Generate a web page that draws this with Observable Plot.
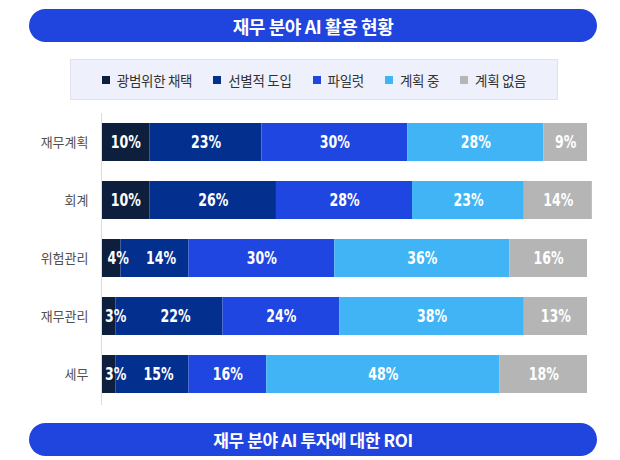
<!DOCTYPE html>
<html><head><meta charset="utf-8">
<script src="https://cdn.jsdelivr.net/npm/d3@7"></script>
<script src="https://cdn.jsdelivr.net/npm/@observablehq/plot@0.6"></script>
<style>
body{margin:0;width:620px;height:460px;position:relative;background:#fff;font-family:"Noto Sans CJK KR","Noto Sans",sans-serif;overflow:hidden}
.pill{position:absolute;left:29px;width:568px;height:33px;border-radius:17px;background:#2045de;color:#fff;font-weight:700;display:flex;align-items:center;justify-content:center;letter-spacing:-0.4px}
#legend{position:absolute;left:70px;top:59px;width:486px;height:39px;background:#eef0fb;border:1px solid #dfe2f2;display:flex;align-items:center;justify-content:center;gap:21px;font-size:13.5px;color:#333;letter-spacing:-0.3px}
#legend .it{display:flex;align-items:center;gap:7px}
#legend .sw{width:8px;height:8px;display:inline-block}
#chart{position:absolute;left:0;top:100px}
</style></head>
<body>
<div class="pill" id="title" style="top:9px;font-size:18px"></div>
<div id="legend"></div>
<div id="chart"></div>
<div class="pill" id="bottom" style="top:423px;font-size:17px"></div>
<script>
const titleText = "재무 분야 AI 활용 현황";
const bottomText = "재무 분야 AI 투자에 대한 ROI";
const categories = ["재무계획", "회계", "위험관리", "재무관리", "세무"];
const seriesNames = ["광범위한 채택", "선별적 도입", "파일럿", "계획 중", "계획 없음"];
const seriesColors = ["#0e1f3d", "#03308f", "#1f46e0", "#40b4f5", "#b5b5b5"];
const broadAdoption = [10, 10, 4, 3, 3];
const selectiveAdoption = [23, 26, 14, 22, 15];
const pilot = [30, 28, 30, 24, 16];
const planning = [28, 23, 36, 38, 48];
const noPlan = [9, 14, 16, 13, 18];
const seriesValues = [broadAdoption, selectiveAdoption, pilot, planning, noPlan];

document.getElementById("title").textContent = titleText;
document.getElementById("bottom").textContent = bottomText;
const leg = document.getElementById("legend");
seriesNames.forEach((s, i) => {
  const it = document.createElement("div"); it.className = "it";
  const sw = document.createElement("span"); sw.className = "sw"; sw.style.background = seriesColors[i];
  const t = document.createElement("span"); t.textContent = s;
  it.appendChild(sw); it.appendChild(t); leg.appendChild(it);
});

const data = [];
categories.forEach((c, ci) => seriesNames.forEach((s, si) => data.push({cat: c, series: s, si, ci, value: seriesValues[si][ci]})));

// labels of very thin first segments (and the one after) are nudged right, as in the original
const tiny = d => d.si === 0 && d.value < 5;
const afterTiny = d => d.si === 1 && broadAdoption[d.ci] < 5;
const labelOpts = {x: "value", y: "cat", z: "series", text: d => d.value + "%", fill: "white",
  fontSize: 17, fontWeight: 700, fontFamily: "'DejaVu Sans', sans-serif", className: "lbl"};

const chart = Plot.plot({
  width: 620, height: 310,
  marginLeft: 101, marginRight: 20, marginTop: 13, marginBottom: 5,
  x: {domain: [0, 100], range: [101, 587], axis: null},
  y: {domain: categories, range: [1, 316], padding: 0.34, label: null},
  color: {domain: seriesNames, range: seriesColors},
  style: {fontFamily: "'Noto Sans CJK KR', sans-serif", background: "transparent"},
  marks: [
    Plot.barX(data, Plot.stackX({x: "value", y: "cat", fill: "series"})),
    Plot.ruleX([0], {stroke: "#dcdcdc", strokeWidth: 1}),
    Plot.axisY({tickSize: 0, tickPadding: 13, fontSize: 13, fill: "#505050", label: null}),
    Plot.text(data, Plot.filter(d => !tiny(d) && !afterTiny(d), Plot.stackX(labelOpts))),
    Plot.text(data, Plot.filter(tiny, Plot.stackX({...labelOpts, dx: 7}))),
    Plot.text(data, Plot.filter(afterTiny, Plot.stackX({...labelOpts, dx: 6})))
  ]
});
d3.select(chart).selectAll(".lbl text").each(function() {
  const t = this.getAttribute("transform");
  if (t) this.setAttribute("transform", t + " scale(0.74,1)");
  else {
    const x = +this.getAttribute("x") || 0, y = +this.getAttribute("y") || 0;
    this.setAttribute("transform", `translate(${x},${y}) scale(0.74,1)`);
    this.removeAttribute("x"); this.removeAttribute("y");
  }
});
document.getElementById("chart").appendChild(chart);
</script>
</body></html>
